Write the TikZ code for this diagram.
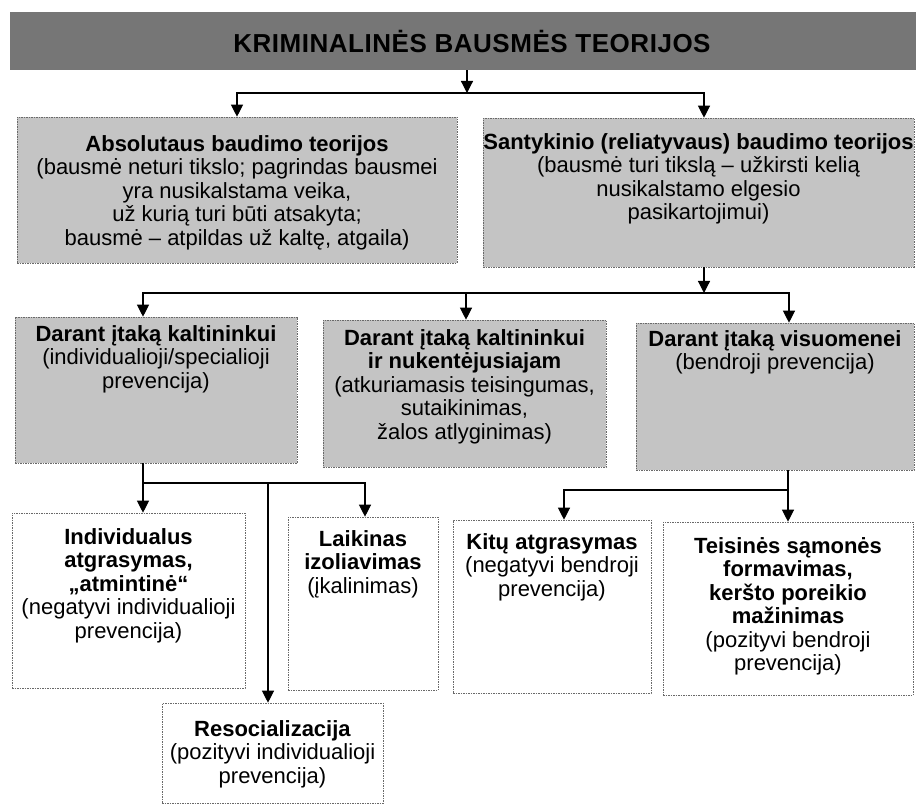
\documentclass[tikz,border=0pt]{standalone}
\usepackage{fontspec}
\setmainfont{Liberation Sans}
\usepackage{tikz}
\usetikzlibrary{arrows.meta,positioning}
\usepackage{xcolor}
\definecolor{bandgray}{RGB}{118,118,118}
\definecolor{theorygray}{RGB}{196,196,196}
\definecolor{edgegray}{RGB}{105,105,105}
\newcommand{\boxtext}[4]{\parbox[c][#1][t]{#2}{\centering\vspace*{#3}\strut#4}}
\tikzstyle{band} = [rectangle, fill=bandgray, minimum width=906pt, minimum height=58pt, inner sep=0pt, font=\fontsize{26}{30}\selectfont\bfseries\addfontfeature{LetterSpace=2}]
\tikzstyle{theory} = [rectangle, draw=edgegray, line width=0.6pt, dash pattern=on 1.5pt off 1pt, fill=theorygray, inner sep=0pt]
\tikzstyle{means} = [theory, fill=white]
\tikzstyle{arrow} = [line width=1.2pt, ->, >={Triangle[length=12pt,width=12pt]}]

\begin{document}
\begin{tikzpicture}[x=1pt, y=-1pt, font=\fontsize{22}{23.5}\selectfont]
\useasboundingbox (0,0) rectangle (916,805);

% Title band
\node (title) [band] at (463,41) {\hspace*{18pt}KRIMINALINĖS BAUSMĖS TEORIJOS};

% Theories
\node (absol) [theory] at (237,190) {\boxtext{146pt}{440pt}{18pt}{\textbf{Absolutaus baudimo teorijos}\\ (bausmė neturi tikslo; pagrindas bausmei\\ yra nusikalstama veika,\\ už kurią turi būti atsakyta;\\ bausmė – atpildas už kaltę, atgaila)}};
\node (relat) [theory] at (698.5,192.5) {\boxtext{149pt}{431pt}{15pt}{\makebox[0pt]{\textbf{Santykinio (reliatyvaus) baudimo teorijos}}\\ (bausmė turi tikslą – užkirsti kelią\\ nusikalstamo elgesio\\ pasikartojimui)}};

% Ways of influence
\node (kalt) [theory] at (156,390) {\boxtext{146pt}{282pt}{8pt}{\textbf{Darant įtaką kaltininkui}\\ (individualioji/specialioji\\ prevencija)}};
\node (nuken) [theory] at (464.5,393.5) {\boxtext{147pt}{283pt}{9pt}{\textbf{Darant įtaką kaltininkui}\\ \textbf{ir nukentėjusiajam}\\ (atkuriamasis teisingumas,\\ sutaikinimas,\\ žalos atlyginimas)}};
\node (visuo) [theory] at (775,396.5) {\boxtext{147pt}{278pt}{7pt}{\textbf{Darant įtaką visuomenei}\\ (bendroji prevencija)}};

% Means of prevention
\node (atgr) [means] at (128.5,600.5) {\boxtext{175pt}{233pt}{15pt}{\textbf{Individualus}\\ \textbf{atgrasymas,}\\ \textbf{„atmintinė“}\\ (negatyvi individualioji\\ prevencija)}};
\node (resoc) [means] at (272.5,753) {\boxtext{100pt}{221pt}{17pt}{\textbf{Resocializacija}\\ (pozityvi individualioji\\ prevencija)}};
\node (laik) [means] at (363,603.5) {\boxtext{173pt}{150pt}{13pt}{\textbf{Laikinas}\\ \textbf{izoliavimas}\\ (įkalinimas)}};
\node (kitu) [means] at (552,606.5) {\boxtext{173pt}{198pt}{13pt}{\textbf{Kitų atgrasymas}\\ (negatyvi bendroji\\ prevencija)}};
\node (teis) [means] at (788,608.5) {\boxtext{173pt}{250pt}{15pt}{\textbf{Teisinės sąmonės}\\ \textbf{formavimas,}\\ \textbf{keršto poreikio}\\ \textbf{mažinimas}\\ (pozityvi bendroji\\ prevencija)}};

% Title to theories
\coordinate (j1) at (467,93);
\draw[arrow] ([xshift=4pt]title.south) -- (j1);
\draw[arrow] (j1) -| (absol.north);
\draw[arrow] (j1) -| ([xshift=5.5pt]relat.north);

% Relative theory to ways of influence
\coordinate (j2) at (704,293);
\draw[arrow] ([xshift=5.5pt]relat.south) -- (j2);
\draw[arrow] (j2) -| ([xshift=-13pt]kalt.north);
\draw[arrow] (j2) -| ([xshift=1.5pt]nuken.north);
\draw[arrow] (j2) -| ([xshift=14pt]visuo.north);

% Individual prevention
\coordinate (j3) at (143,483);
\draw[line width=1.2pt] ([xshift=-13pt]kalt.south) -- (j3);
\draw[arrow] (j3) -- ([xshift=14.5pt]atgr.north);
\draw[arrow] (j3) -| ([xshift=-4.5pt]resoc.north);
\draw[arrow] (j3) -| ([xshift=2pt]laik.north);

% General prevention
\coordinate (j4) at (788,490);
\draw[line width=1.2pt] ([xshift=13pt]visuo.south) -- (j4);
\draw[arrow] (j4) -- (teis.north);
\draw[arrow] (j4) -| ([xshift=12pt]kitu.north);
\end{tikzpicture}
\end{document}
